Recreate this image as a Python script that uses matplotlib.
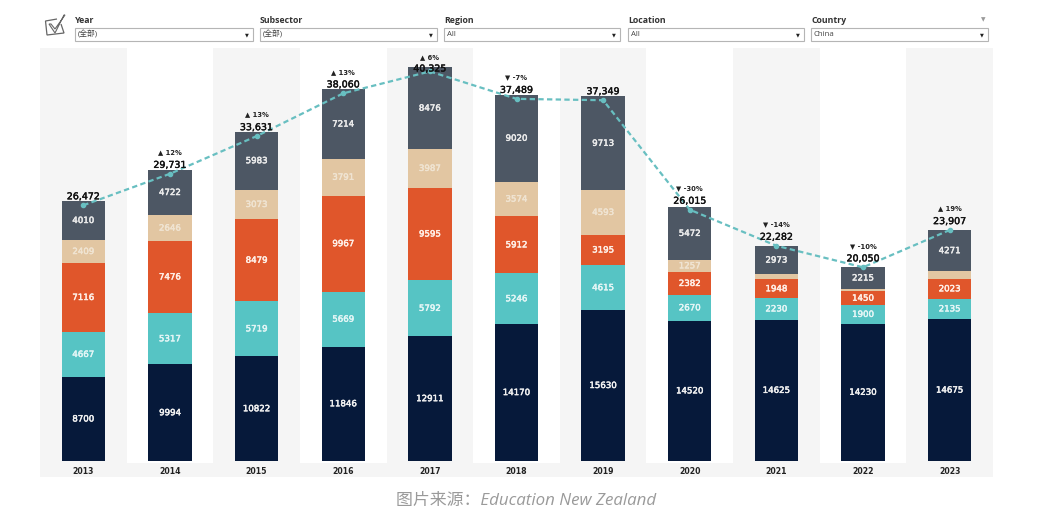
import matplotlib
matplotlib.use("Agg")
import matplotlib.pyplot as plt
import matplotlib.patheffects as pe
from matplotlib.patches import Rectangle, Polygon

years = ["2013","2014","2015","2016","2017","2018","2019","2020","2021","2022","2023"]
navy  = [8700, 9994, 10822, 11846, 12911, 14170, 15630, 14520, 14625, 14230, 14675]
teal  = [4667, 5317, 5719, 5669, 5792, 5246, 4615, 2670, 2230, 1900, 2135]
orange= [7116, 7476, 8479, 9967, 9595, 5912, 3195, 2382, 1948, 1450, 2023]
tan   = [2409, 2646, 3073, 3791, 3987, 3574, 4593, 1257, 506, 255, 803]
slate = [4010, 4722, 5983, 7214, 8476, 9020, 9713, 5472, 2973, 2215, 4271]
totals = [26472, 29731, 33631, 38060, 40325, 37489, 37349, 26015, 22282, 20050, 23907]
total_labels = ["26,472","29,731","33,631","38,060","40,325","37,489","37,349","26,015","22,282","20,050","23,907"]
changes = ["", "▲ 12%", "▲ 13%", "▲ 13%", "▲ 6%", "▼ -7%", "", "▼ -30%", "▼ -14%", "▼ -10%", "▲ 19%"]
tan_labels = ["2409","2646","3073","3791","3987","3574","4593","1257","","",""]
filter_names = ["Year","Subsector","Region","Location","Country"]
filter_values = ["(全部)","(全部)","All","All","China"]

series = [navy, teal, orange, tan, slate]
colors = ["#06193a", "#56c4c4", "#e0562b", "#e2c6a2", "#4d5764"]
label_colors = ["#f2f2f2", "#e4f6f6", "#fff0e8", "#f0e4d2", "#ececec"]

W, H = 1045, 521
plt.rcParams["font.family"] = ["DejaVu Sans", "Noto Sans CJK SC"]
fig = plt.figure(figsize=(W/100, H/100), dpi=100, facecolor="white")

# main plot area
ax = fig.add_axes([40/W, 1-477/H, 953/W, 429/H])
ax.set_facecolor("#f5f5f5")
px = 0.00966
ax.set_xlim(-0.5, 10.5)
ax.set_ylim(-16/px, (461-48)/px)
for s in ax.spines.values():
    s.set_visible(False)
ax.tick_params(length=0, pad=-7.5)
ax.set_yticks([])
ax.set_xticks(range(len(years)))
ax.set_xticklabels(years, fontsize=5.6, fontweight="bold", color="#222222")
for i in range(1, 11, 2):
    ax.axvspan(i-0.5, i+0.5, ymin=14/429, ymax=1, color="white", lw=0, zorder=0)

bottom = [0]*len(years)
for vals, c, lc in zip(series, colors, label_colors):
    ax.bar(range(len(years)), vals, 0.5, bottom=bottom, color=c, zorder=2)
    for i, v in enumerate(vals):
        txt = tan_labels[i] if c == colors[3] else str(v)
        if txt:
            ax.text(i, bottom[i]+v/2, txt, ha="center", va="center", fontsize=6.2,
                    color=lc, zorder=3,
                    path_effects=[pe.withStroke(linewidth=0.35, foreground=lc)])
    bottom = [b+v for b, v in zip(bottom, vals)]

# trend line
ax.plot(range(len(years)), totals, color="#68bfc1", lw=1.6, ls=(0, (2.4, 1.5)), zorder=6)
ax.plot(range(len(years)), totals, ls="", marker="o", ms=3, color="#68bfc1", zorder=6)

for i, (yr, t, lab, ch) in enumerate(zip(years, totals, total_labels, changes)):
    squeezed = yr == "2017"   # the peak label is pushed down to stay inside the view
    ax.annotate(lab, (i, t), xytext=(0, 1.8 if squeezed else 6.1), textcoords="offset points",
                ha="center", va="center", fontsize=6.8, color="#111111", zorder=7,
                path_effects=[pe.withStroke(linewidth=0.3, foreground="#111111")])
    if ch:
        ax.annotate(ch, (i, t), xytext=(0, 10.4 if squeezed else 15.5), textcoords="offset points",
                    ha="center", va="center", fontsize=4.9, fontweight="bold", color="#222222", zorder=7)

# filter strip and caption in pixel coordinates
ov = fig.add_axes([0, 0, 1, 1], facecolor="none")
ov.set_xlim(0, W); ov.set_ylim(H, 0); ov.axis("off")
boxes = [(75, 253), (260, 437), (444, 620), (628, 804), (811, 988)]
for (x0, x1), name, val in zip(boxes, filter_names, filter_values):
    ov.text(x0, 20.5, name, fontsize=6.3, fontweight="bold", color="#333333", va="center",
            family=["Open Sans"])
    ov.add_patch(Rectangle((x0, 28), x1-x0, 12.5, fc="white", ec="#b5b5b5", lw=0.8))
    ov.text(x0+3, 34.5, val, fontsize=5.6, color="#444444", va="center",
            family=["Open Sans", "Noto Sans CJK SC"])
    ov.text(x1-6.5, 34.5, "▼", fontsize=3.6, color="#222222", ha="center", va="center")
ov.text(983.5, 19.5, "▼", fontsize=4.2, color="#999999", ha="center", va="center")
ov.add_patch(Polygon([(61, 24), (64, 33), (47, 35), (45.5, 21), (57, 19)], closed=False,
                     fc="none", ec="#666666", lw=0.9))
ov.add_patch(Polygon([(49, 24), (55, 33), (64, 15), (65, 15), (55, 29), (51, 24)], closed=True,
                     fc="white", ec="#666666", lw=0.8))
ov.text(526, 501, "图片来源：Education New Zealand", fontsize=12.2, color="#9a9a9a", style="italic",
        ha="center", va="center", family=["Open Sans", "Noto Sans CJK SC"])

fig.savefig("out.png", dpi=100)
